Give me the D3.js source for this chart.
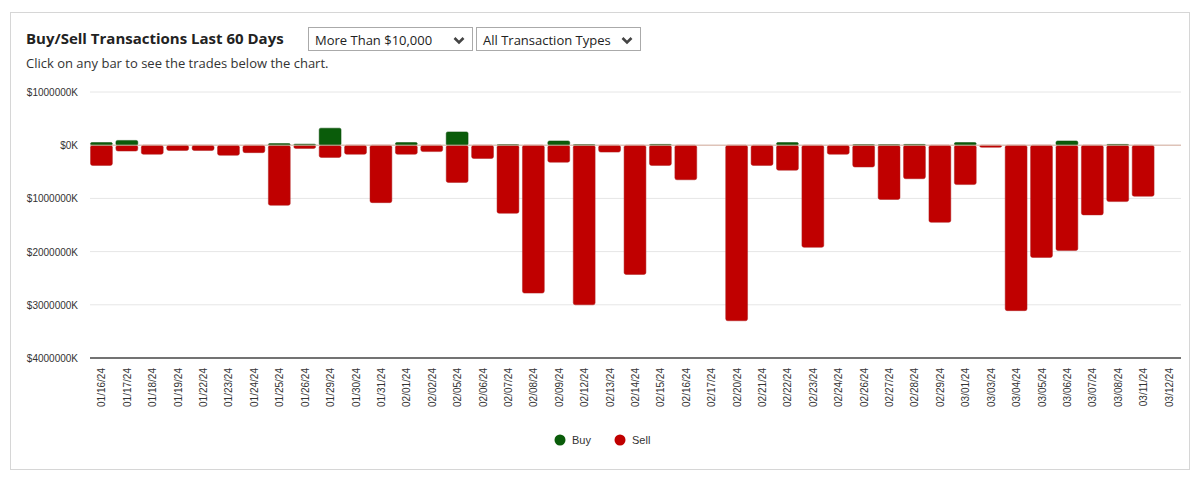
<!DOCTYPE html>
<html><head><meta charset="utf-8">
<script src="https://cdn.jsdelivr.net/npm/d3@7"></script>
<style>
body{margin:0;background:#fff;font-family:"Open Sans",sans-serif;}
#box{position:absolute;left:10px;top:12px;width:1178px;height:456px;border:1px solid #d6d6d6;}
.title{position:absolute;left:26px;top:28px;font-size:15px;font-weight:bold;color:#222;}
.sub{position:absolute;left:26px;top:54px;font-size:13px;color:#333;}
.sel{position:absolute;top:27px;height:24px;border:1px solid #aaa;font-size:13px;color:#222;box-sizing:border-box;padding:3px 6px;}
.sel svg{position:absolute;right:7px;top:8px;}
</style></head><body>
<div id="box"></div>
<div class="title">Buy/Sell Transactions Last 60 Days</div>
<div class="sel" style="left:308px;width:165px">More Than $10,000<svg width="12" height="9"><path d="M1.5,2 L6,6.5 L10.5,2" fill="none" stroke="#444" stroke-width="2.6"/></svg></div>
<div class="sel" style="left:476px;width:165px">All Transaction Types<svg width="12" height="9"><path d="M1.5,2 L6,6.5 L10.5,2" fill="none" stroke="#444" stroke-width="2.6"/></svg></div>
<div class="sub">Click on any bar to see the trades below the chart.</div>
<svg id="c" width="1200" height="478" style="position:absolute;left:0;top:0"></svg>
<script>
const dates=["01/16/24","01/17/24","01/18/24","01/19/24","01/22/24","01/23/24","01/24/24","01/25/24","01/26/24","01/29/24","01/30/24","01/31/24","02/01/24","02/02/24","02/05/24","02/06/24","02/07/24","02/08/24","02/09/24","02/12/24","02/13/24","02/14/24","02/15/24","02/16/24","02/17/24","02/20/24","02/21/24","02/22/24","02/23/24","02/24/24","02/26/24","02/27/24","02/28/24","02/29/24","03/01/24","03/03/24","03/04/24","03/05/24","03/06/24","03/07/24","03/08/24","03/11/24","03/12/24"];
const buy=[50000,90000,0,0,0,0,0,30000,20000,320000,0,0,50000,0,250000,0,10000,0,80000,10000,0,0,15000,0,0,0,0,50000,0,0,10000,10000,15000,0,50000,0,0,0,80000,0,15000,0,0];
const sell=[-380000,-110000,-170000,-100000,-100000,-190000,-140000,-1130000,-60000,-230000,-170000,-1080000,-170000,-120000,-700000,-250000,-1280000,-2780000,-320000,-3000000,-130000,-2430000,-380000,-650000,0,-3300000,-380000,-470000,-1920000,-170000,-410000,-1020000,-630000,-1450000,-740000,-40000,-3110000,-2110000,-1980000,-1310000,-1060000,-960000,0];
const yTicks=[1000000,0,-1000000,-2000000,-3000000,-4000000];
const svg=d3.select("#c");
const x=d3.scaleBand().domain(dates).range([89,1181]).paddingInner(0.14).paddingOuter(0.06);
const y=d3.scaleLinear().domain([-4000000,1000000]).range([358,92]);
const fmt=v=>"$"+Math.abs(v)+"K";
svg.append("g").selectAll("line").data(yTicks).join("line")
 .attr("x1",90).attr("x2",1181).attr("y1",d=>y(d)).attr("y2",d=>y(d))
 .attr("stroke",d=>d===-4000000?"#444":"#e6e6e6").attr("stroke-width",d=>d===-4000000?1.5:1);
svg.append("g").selectAll("text").data(yTicks).join("text")
 .attr("x",78).attr("y",d=>y(d)+4).attr("text-anchor","end")
 .attr("font-family","Liberation Sans, Arial").attr("font-size",10).attr("fill","#333").text(fmt);
const bw=x.bandwidth();
svg.append("g").selectAll("rect").data(dates.map((d,i)=>({d,v:sell[i]})).filter(o=>o.v!==0)).join("rect")
 .attr("x",o=>x(o.d)).attr("width",bw).attr("y",y(0)).attr("height",o=>y(o.v)-y(0))
 .attr("rx",2).attr("fill","#c00000").attr("stroke","#b02020").attr("stroke-width",0.5);
svg.append("g").selectAll("rect").data(dates.map((d,i)=>({d,v:buy[i]})).filter(o=>o.v!==0)).join("rect")
 .attr("x",o=>x(o.d)).attr("width",bw).attr("y",o=>y(o.v)).attr("height",o=>y(0)-y(o.v))
 .attr("rx",1.5).attr("fill","#0a5c0a").attr("stroke","#0a4d0a").attr("stroke-width",0.5);
svg.append("line").attr("x1",90).attr("x2",1181).attr("y1",y(0)).attr("y2",y(0)).attr("stroke","#d8b0a0").attr("stroke-width",1);
svg.append("g").selectAll("text").data(dates).join("text")
 .attr("transform",d=>`translate(${x(d)+bw/2+4},368) rotate(-90)`)
 .attr("text-anchor","end").attr("font-family","Liberation Sans, Arial").attr("font-size",10).attr("fill","#333").text(d=>d);
const lg=svg.append("g");
[["Buy","#0a5c0a",560],["Sell","#c00000",620]].forEach(([t,c,lx])=>{
 lg.append("circle").attr("cx",lx).attr("cy",440).attr("r",5.5).attr("fill",c);
 lg.append("text").attr("x",lx+12).attr("y",444).attr("font-family","Liberation Sans, Arial").attr("font-size",11).attr("fill","#333").text(t);
});
</script></body></html>
